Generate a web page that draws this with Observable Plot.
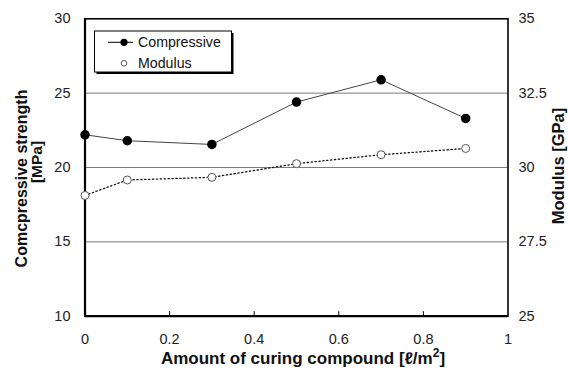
<!DOCTYPE html>
<html>
<head>
<meta charset="utf-8">
<script src="https://cdn.jsdelivr.net/npm/d3@7"></script>
<script src="https://cdn.jsdelivr.net/npm/@observablehq/plot@0.6"></script>
<style>
  html, body { margin: 0; padding: 0; background: #fff; }
  svg { font-family: "Liberation Sans", Arial, sans-serif; }
</style>
</head>
<body>
<div id="chart"></div>
<script>
// Amount of curing compound (l/m2)
const amount = [0, 0.1, 0.3, 0.5, 0.7, 0.9];
// Compressive strength (MPa), left axis
const compressive = [22.2, 21.8, 21.55, 24.4, 25.9, 23.3];
// Elastic modulus (GPa), right axis
const modulus = [29.06, 29.58, 29.67, 30.13, 30.43, 30.64];

const xTicks = [0, 0.2, 0.4, 0.6, 0.8, 1];
const xInnerTicks = [0.2, 0.4, 0.6, 0.8];
const leftTicks = [10, 15, 20, 25, 30];
const rightTicks = [25, 27.5, 30, 32.5, 35];
const gridValues = [15, 20, 25];

// The right axis (25–35 GPa) shares the plot's y scale (10–30 MPa)
const toLeft = m => 10 + (m - 25) * 2;
const toRight = v => 25 + (v - 10) / 2;

const rows = amount.map((a, i) => ({
  amount: a,
  compressive: compressive[i],
  modulus: modulus[i],
  modulusOnLeft: toLeft(modulus[i])
}));

const W = 568, H = 371;
const mL = 84.5, mR = 60.5, mT = 18.3, mB = 55.3;

const chart = Plot.plot({
  width: W,
  height: H,
  marginLeft: mL,
  marginRight: mR,
  marginTop: mT,
  marginBottom: mB,
  style: { fontFamily: "Liberation Sans, Arial, sans-serif", background: "white", overflow: "visible" },
  x: { domain: [0, 1] },
  y: { domain: [10, 30] },
  marks: [
    Plot.gridY(gridValues, { stroke: "#7a7a7a", strokeOpacity: 1, strokeWidth: 1 }),
    Plot.frame({ stroke: "black", strokeWidth: 1.6 }),
    Plot.ruleY([10], { stroke: "black", strokeWidth: 2.2 }),
    Plot.ruleX([0], { stroke: "black", strokeWidth: 2.2 }),
    // short inward ticks on the bottom edge
    Plot.ruleX(xInnerTicks, { x: d => d, y1: 10, y2: 10, insetTop: -4.5, stroke: "black", strokeWidth: 1 }),
    Plot.axisY({ ticks: leftTicks, tickSize: 0, tickPadding: 14.5, fontSize: 14.5, fill: "#222", label: null }),
    Plot.axisY({ anchor: "right", ticks: leftTicks, tickFormat: v => String(toRight(v)), tickSize: 0, tickPadding: 10.5, fontSize: 14.5, fill: "#222", label: null }),
    Plot.axisX({ ticks: xTicks, tickFormat: d => String(d), tickSize: 0, tickPadding: 18, fontSize: 14.5, fill: "#222", label: null }),
    // Modulus: dotted line with open circles
    Plot.line(rows, { x: "amount", y: "modulusOnLeft", stroke: "#111", strokeWidth: 1.3, strokeDasharray: "1.3,2.6" }),
    Plot.dot(rows, { x: "amount", y: "modulusOnLeft", r: 4, fill: "white", stroke: "#555", strokeWidth: 1 }),
    // Compressive strength: solid line with filled circles
    Plot.line(rows, { x: "amount", y: "compressive", stroke: "#444", strokeWidth: 1 }),
    Plot.dot(rows, { x: "amount", y: "compressive", r: 4, fill: "black", stroke: "black" })
  ]
});

document.getElementById("chart").appendChild(chart);

const svg = d3.select(chart);
const font = (size) => `bold ${size}px 'Liberation Sans', Arial, sans-serif`;

// Axis titles
const xt = svg.append("text")
  .attr("x", 303).attr("y", 364)
  .attr("text-anchor", "middle")
  .style("font", font(17)).attr("fill", "#111");
xt.append("tspan").text("Amount of curing compound [ℓ/m");
xt.append("tspan").attr("dy", -7).style("font-size", "12px").text("2");
xt.append("tspan").attr("dy", 7).text("]");

svg.append("text")
  .attr("transform", "translate(26.5,178.5) rotate(-90)")
  .attr("text-anchor", "middle")
  .style("font", font(16)).attr("fill", "#111")
  .text("Comcpressive strength");
svg.append("text")
  .attr("transform", "translate(41.5,162) rotate(-90)")
  .attr("text-anchor", "middle")
  .style("font", font(15.5)).attr("fill", "#111")
  .text("[MPa]");
svg.append("text")
  .attr("transform", "translate(563.5,166) rotate(-90)")
  .attr("text-anchor", "middle")
  .style("font", font(16.5)).attr("fill", "#111")
  .text("Modulus [GPa]");

// Legend box with drop shadow
const lg = svg.append("g").attr("text-anchor", "start");
lg.append("rect").attr("x", 96.5).attr("y", 33).attr("width", 137).attr("height", 41).attr("fill", "black");
lg.append("rect").attr("x", 94.5).attr("y", 31).attr("width", 137).attr("height", 41)
  .attr("fill", "white").attr("stroke", "black").attr("stroke-width", 1);
lg.append("line").attr("x1", 108).attr("x2", 133).attr("y1", 42.3).attr("y2", 42.3)
  .attr("stroke", "black").attr("stroke-width", 1);
lg.append("circle").attr("cx", 124).attr("cy", 42.3).attr("r", 3.6).attr("fill", "black");
lg.append("circle").attr("cx", 124).attr("cy", 63.3).attr("r", 2.8)
  .attr("fill", "white").attr("stroke", "#555").attr("stroke-width", 1);
const legendFont = "14.2px 'Liberation Sans', Arial, sans-serif";
lg.append("text").attr("x", 138).attr("y", 42.3).attr("dy", "0.35em").attr("text-anchor", "start")
  .style("font", legendFont).attr("fill", "#111").text("Compressive");
lg.append("text").attr("x", 138).attr("y", 63.3).attr("dy", "0.35em").attr("text-anchor", "start")
  .style("font", legendFont).attr("fill", "#111").text("Modulus");
</script>
</body>
</html>
